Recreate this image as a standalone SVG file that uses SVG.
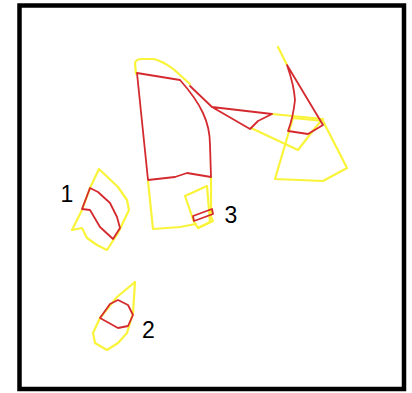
<svg xmlns="http://www.w3.org/2000/svg" width="412" height="393" viewBox="0 0 412 393">
<style>
.y{fill:none;stroke:#f9f43a;stroke-width:2.2;stroke-linejoin:round;stroke-linecap:round}
.r{fill:none;stroke:#d42a2f;stroke-width:1.8;stroke-linejoin:round;stroke-linecap:round}
.lbl{font-family:"Liberation Sans",Arial,sans-serif;font-size:23px;fill:#000}
</style>
<rect x="19.5" y="5.5" width="384.5" height="383.5" fill="#fff" stroke="#000" stroke-width="4.5"/>
<g id="region-main">
<path class="y" d="M136,74 L135,63 Q136,59 142,59 L154,59 Q168,63 180,75 L190,84"/>
<path class="y" d="M148,181 L153,229 L180,227 L196,224 M211,177 L211,217 L213,221 L198,228"/>
<path class="y" d="M185,196 L207,186 L210,222 L198,228 L194,222 Z"/>
<path class="r" d="M137,73 L180,80 Q196,98 203,113 Q210,128 210,145 L211,177 L187,173 L175,177 L148,180 Z"/>
<path class="r" d="M193,216 L212,209 L213,214 L194,221 Z"/>
</g>
<g id="region-bridge">
<path class="y" d="M272,114 L323,119 M251,128 L298,150 L315,128 L322,120"/>
<path class="r" d="M190,86 L212,107 L272,114 L258,121 L250,129 L212,107"/>
</g>
<g id="region-right">
<path class="y" d="M278,47 L287,65"/>
<path class="y" d="M293,118 L275,179 L323,181 L347,168 L323,121 Z"/>
<path class="r" d="M287,65 L323,125 L308,134 L288,131 Q293,118 295,100 Q294,85 287,65 Z"/>
</g>
<g id="region-1">
<path class="y" d="M99,169 L118,187 L127,200 L129,210 L118,233 L107,250 L97,245 L87,238 L82,228 L72,230 L82,210 L90,188 Z"/>
<path class="r" d="M90,188 L98,192 L110,203 L117,217 L120,228 L113,239 L100,227 L90,210 L82,209 Z"/>
</g>
<g id="region-2">
<path class="y" d="M135,282 L133,313 L127,333 L118,343 L107,350 L95,343 L93,333 L100,318 L117,297 Z"/>
<path class="r" d="M100,318 L110,304 L118,300 L128,305 L133,315 L128,326 L118,328 Z"/>
</g>
<g id="labels">
<text class="lbl" x="67" y="202" text-anchor="middle">1</text>
<text class="lbl" x="148.5" y="338" text-anchor="middle">2</text>
<text class="lbl" x="231" y="222.5" text-anchor="middle">3</text>
</g>
</svg>
